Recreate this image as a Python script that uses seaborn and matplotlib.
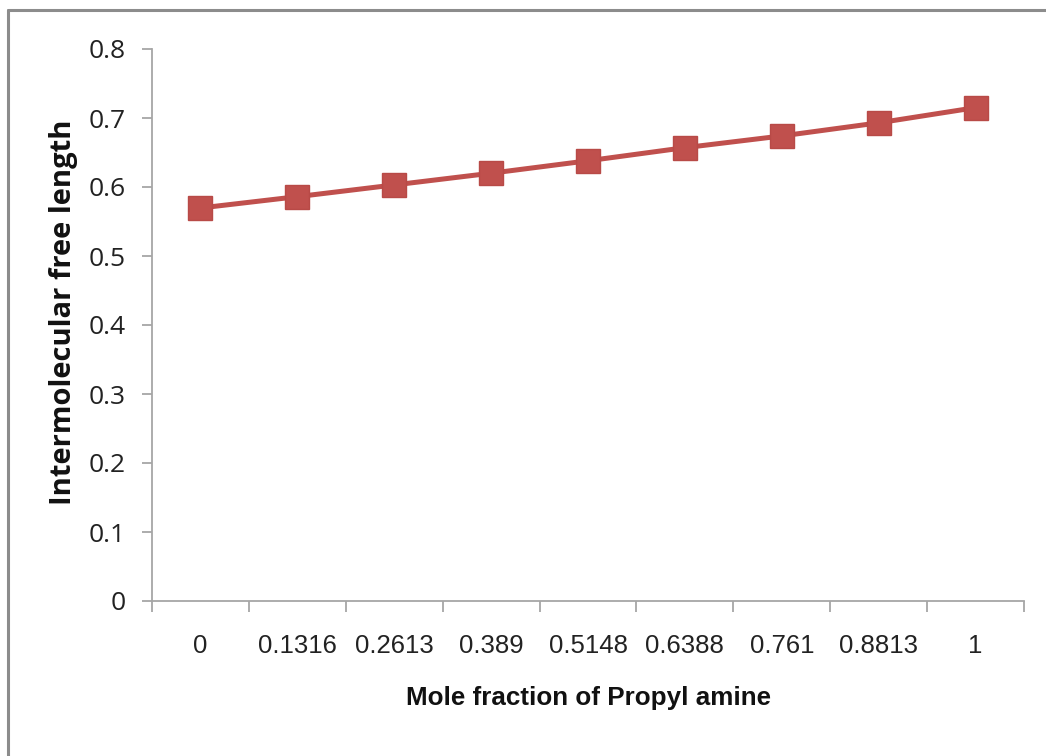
import matplotlib
matplotlib.use("Agg")
import matplotlib.pyplot as plt
import seaborn as sns
import pandas as pd
import numpy as np
from matplotlib.lines import Line2D

# Data
mole_fraction_labels = ["0", "0.1316", "0.2613", "0.389", "0.5148", "0.6388", "0.761", "0.8813", "1"]
free_length = [0.5696, 0.586, 0.603, 0.620, 0.638, 0.657, 0.674, 0.693, 0.715]
y_ticks = [0, 0.1, 0.2, 0.3, 0.4, 0.5, 0.6, 0.7, 0.8]
y_tick_labels = ["0", "0.1", "0.2", "0.3", "0.4", "0.5", "0.6", "0.7", "0.8"]

sns.set_theme(style="white")
plt.rcParams['font.family'] = ['Open Sans', 'DejaVu Sans']

W, H = 1046, 756
fig = plt.figure(figsize=(W / 100, H / 100), dpi=100)
ax = fig.add_axes([152 / W, 1 - 601 / H, 872 / W, 552 / H])

df = pd.DataFrame({"x": pd.Categorical(mole_fraction_labels, categories=mole_fraction_labels, ordered=True),
                   "y": free_length})
sns.lineplot(data=df, x="x", y="y", ax=ax, color="#C0504D", linewidth=3.6,
             marker="s", markersize=17, markeredgecolor="#B84A47", markerfacecolor="#C0504D",
             markeredgewidth=1, sort=False)

n = len(mole_fraction_labels)
ax.set_xlim(-0.5, n - 0.5)
ax.set_ylim(0, 0.8)

grey = "#A6A6A6"
for s in ["top", "right"]:
    ax.spines[s].set_visible(False)
for s in ["left", "bottom"]:
    ax.spines[s].set_color(grey)
    ax.spines[s].set_linewidth(1.3)

# y ticks
ax.set_yticks(y_ticks)
ax.set_yticklabels(y_tick_labels, fontsize=19, color="#222222")
ax.tick_params(axis="y", which="major", direction="out", length=7, width=1.3, color=grey, pad=12, left=True)

# x ticks: major at boundaries (no labels), minor at centres (labels)
ax.set_xticks(np.arange(-0.5, n, 1.0))
ax.set_xticklabels([""] * (n + 1))
ax.set_xticks(np.arange(n), minor=True)
ax.set_xticklabels(mole_fraction_labels, minor=True,
                   fontsize=18.5, color="#222222", family=['Liberation Sans', 'DejaVu Sans'])
ax.tick_params(axis="x", which="major", direction="out", length=8, width=1.3, color=grey, bottom=True)
ax.tick_params(axis="x", which="minor", length=0, pad=24, bottom=True)

ax.set_xlabel("Mole fraction of Propyl amine", fontsize=18.7, fontweight="bold", color="#111111",
              family=['Liberation Sans', 'DejaVu Sans'])
ax.xaxis.set_label_coords(0.5, -(686 - 601) / 552)
ax.set_ylabel("Intermolecular free length", fontsize=21, fontweight="bold", color="#111111")
ax.yaxis.set_label_coords(-(152 - 78) / 872, (601 - 312) / 552)
ax.grid(False)

# outer frame (top and left edges visible)
fig.add_artist(Line2D([8 / W, 1.0], [1 - 10 / H, 1 - 10 / H], transform=fig.transFigure,
                      color="#8C8C8C", linewidth=2.2))
fig.add_artist(Line2D([8 / W, 8 / W], [0.0, 1 - 10 / H], transform=fig.transFigure,
                      color="#8C8C8C", linewidth=2.2))

fig.savefig("out.png", dpi=100, facecolor="white")
